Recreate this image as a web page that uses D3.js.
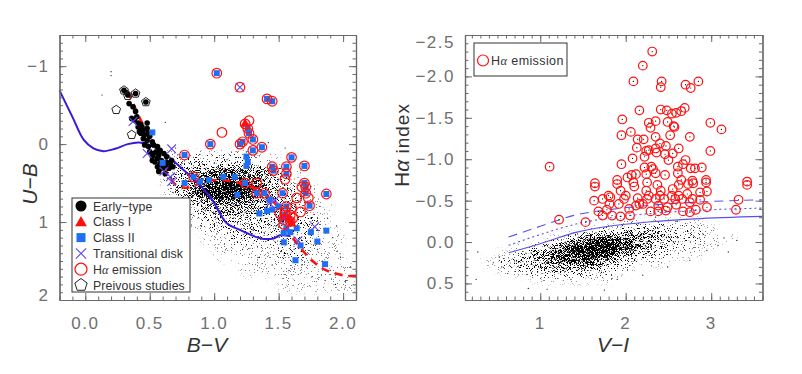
<!DOCTYPE html>
<html>
<head>
<meta charset="utf-8">
<script src="https://cdn.jsdelivr.net/npm/d3@7"></script>
<style>
  body { margin: 0; background: #fff; }
  text { font-family: "Liberation Sans", "DejaVu Sans", sans-serif; }
</style>
</head>
<body>
<div id="chart"></div>
<script>
// ---------- left panel: U-B vs B-V ----------
const earlyType = [[0.30,-0.69],[0.32,-0.66],[0.33,-0.63],[0.39,-0.65],[0.47,-0.54],[0.34,-0.52],[0.37,-0.48],
  [0.39,-0.42],[0.36,-0.33],[0.40,-0.35],[0.38,-0.31],[0.41,-0.27],[0.43,-0.25],[0.44,-0.22],[0.45,-0.18],
  [0.48,-0.27],[0.42,-0.16],[0.43,-0.14],[0.46,-0.12],[0.49,-0.14],[0.45,-0.07],[0.48,-0.05],[0.50,-0.10],
  [0.52,-0.03],[0.46,0.01],[0.49,0.03],[0.53,0.01],[0.56,0.03],[0.58,0.08],[0.50,0.10],[0.53,0.12],[0.57,0.14],
  [0.61,0.12],[0.52,0.16],[0.56,0.18],[0.59,0.21],[0.63,0.16],[0.54,0.23],[0.58,0.25],[0.62,0.27],[0.66,0.25],
  [0.56,0.29],[0.60,0.31],[0.65,0.31],[0.68,0.29],[0.57,0.35],[0.62,0.38],[0.48,-0.20],[0.41,-0.22],[0.52,0.21],
  [0.63,0.23],[0.67,0.21],[0.55,0.10]];
const classOne = [[1.24,-0.26],[1.55,0.93],[1.59,0.97],[1.60,1.02]];
const classTwo = [[1.02,-0.91],[1.41,-0.58],[1.45,-0.55],[1.26,-0.20],[1.27,-0.14],[1.30,-0.06],[1.20,0.00],
  [1.22,-0.03],[0.97,0.00],[1.30,0.08],[1.37,0.04],[1.25,0.16],[1.26,0.23],[1.25,0.28],[1.45,0.29],[1.46,0.34],
  [1.56,0.29],[1.56,0.38],[1.60,0.17],[1.70,0.28],[0.77,0.14],[0.84,0.42],[0.77,0.50],[0.89,0.48],[0.96,0.46],
  [1.07,0.42],[1.16,0.42],[1.24,0.50],[1.70,0.50],[0.52,-0.15],[0.60,0.24],[1.71,0.55],[1.87,0.64],[1.53,0.63],
  [1.33,0.63],[1.39,0.63],[1.18,0.65],[1.43,0.71],[1.71,0.63],[1.74,0.79],[1.56,0.80],[1.55,0.91],[1.50,0.80],
  [1.45,0.84],[1.41,0.86],[1.35,0.89],[1.56,1.08],[1.64,1.08],[1.54,1.14],[1.59,1.13],[1.75,1.13],[1.87,1.11],
  [1.54,1.26],[1.67,1.30],[1.80,1.25],[1.63,1.49],[1.86,1.54]];
const transDisk = [[1.20,-0.73],[0.37,-0.29],[0.67,0.06],[0.48,0.12],[0.66,0.42],[0.61,0.35],[0.67,0.48],
  [1.52,0.99],[1.54,0.93],[1.78,1.06],[1.65,1.24],[1.43,0.76],[1.47,0.72]];
const haLeft = [[1.02,-0.91],[1.20,-0.73],[1.41,-0.58],[1.45,-0.55],[1.24,-0.26],[1.27,-0.30],[1.26,-0.20],
  [1.27,-0.14],[1.30,-0.06],[1.20,0.00],[1.22,-0.03],[1.06,-0.15],[0.97,0.00],[1.30,0.08],[1.37,0.04],[1.45,0.29],
  [1.46,0.34],[1.56,0.29],[1.56,0.38],[1.60,0.17],[1.70,0.28],[0.77,0.14],[0.84,0.42],[1.24,0.50],[1.33,0.50],
  [1.55,0.45],[1.70,0.50],[1.71,0.55],[1.68,0.55],[1.87,0.64],[1.64,0.69],[1.53,0.63],[1.33,0.63],[1.39,0.63],
  [1.71,0.63],[1.73,0.69],[1.74,0.79],[1.67,0.87],[1.56,0.80],[1.60,0.82],[1.55,0.86],[1.51,0.89],[1.55,0.91],
  [1.59,0.91],[1.61,0.95],[1.54,0.97],[1.59,0.99],[1.54,1.03]];
const previous = [[0.30,-0.69],[0.33,-0.62],[0.39,-0.65],[0.47,-0.54],[0.24,-0.44],[0.36,-0.12]];
const zamsLine = [[-0.2,-0.69],[-0.1,-0.35],[-0.01,-0.05],[0.06,0.05],[0.14,0.09],[0.23,0.06],[0.33,0.0],
  [0.42,-0.02],[0.53,0.03],[0.63,0.14],[0.76,0.33],[0.85,0.46],[0.97,0.68],[1.10,1.02],[1.20,1.10],[1.36,1.21],
  [1.46,1.21],[1.51,1.17],[1.59,1.18]];
const reddenedLine = [[0.33,-0.68],[0.43,-0.31],[0.53,-0.01],[0.62,0.33],[0.70,0.52],[0.78,0.56],[0.90,0.50],
  [1.02,0.46],[1.20,0.50],[1.36,0.61],[1.49,0.80],[1.54,1.02],[1.64,1.27],[1.77,1.51],[1.87,1.62],[2.03,1.69],[2.10,1.69]];
// field stars: density (B-V columns x U-B rows, 0-9)
const fieldBV = [0.65,0.75,0.85,0.95,1.05,1.15,1.25,1.35,1.45,1.55,1.65,1.75,1.85,1.95,2.05];
const fieldUB = [0.2,0.4,0.6,0.8,1.0,1.2,1.4,1.6,1.8];
const fieldDensL = [
  [2,2,2,2,2,2,2,1,1,0,0,0,0,0,0],
  [2,3,5,6,7,7,6,5,3,2,1,0,0,0,0],
  [1,3,6,8,9,9,8,6,4,3,2,1,0,0,0],
  [0,1,3,4,5,5,5,4,4,3,2,1,1,0,0],
  [0,0,1,2,3,3,3,3,3,3,2,2,1,0,0],
  [0,0,0,1,1,2,2,2,2,2,2,2,1,1,0],
  [0,0,0,0,1,1,1,1,1,2,2,1,1,1,0],
  [0,0,0,0,0,0,1,1,1,1,1,1,1,1,1],
  [0,0,0,0,0,0,0,0,0,1,1,1,1,1,1]];
const fieldDotsL = [[0.20,-0.93],[0.20,-0.88],[0.13,-0.63],[0.62,-0.28],[0.70,0.05],[0.75,0.25],[0.68,0.62],
  [0.72,0.80],[0.80,0.95],[0.90,1.05],[0.95,0.85],[1.02,1.15],[1.08,1.28],[1.15,0.95],[1.22,1.35],[1.30,1.10],
  [1.35,1.45],[1.40,1.25],[1.45,1.55],[1.48,1.05],[1.52,1.38],[1.58,1.62],[1.62,1.35],[1.68,1.55],[1.72,1.42],
  [1.76,1.70],[1.80,1.35],[1.84,1.50],[1.90,1.62],[1.94,1.80],[1.98,1.45],[2.02,1.75],[2.06,1.58],[1.92,1.20],
  [1.88,0.95],[1.82,0.80],[1.95,1.05],[1.60,0.60],[1.50,0.45],[1.40,0.30],[1.35,0.15],[1.25,0.10],[1.10,0.20],
  [1.00,0.25],[0.85,0.30],[1.65,0.72],[1.75,0.95],[1.42,-0.02],[1.55,0.05]];

// ---------- right panel: H-alpha index vs V-I ----------
const haRight = [[1.11,-0.91],[2.31,-2.30],[2.20,-2.13],[2.09,-1.94],[2.42,-1.94],[2.41,-1.87],[2.70,-1.90],
  [2.76,-1.86],[2.85,-1.94],[2.16,-1.59],[2.41,-1.60],[2.48,-1.59],[2.54,-1.55],[2.59,-1.56],[2.69,-1.62],
  [2.65,-1.58],[1.96,-1.48],[2.29,-1.38],[2.27,-1.44],[2.35,-1.46],[2.49,-1.45],[2.56,-1.40],[2.57,-1.39],
  [2.99,-1.44],[3.12,-1.36],[1.95,-1.29],[2.06,-1.33],[2.14,-1.24],[2.21,-1.24],[2.35,-1.27],[2.52,-1.29],
  [2.75,-1.27],[2.13,-1.14],[2.24,-1.10],[2.27,-1.11],[2.35,-1.13],[2.40,-1.19],[2.47,-1.16],[2.62,-1.13],
  [2.99,-1.10],[2.08,-1.01],[2.22,-1.03],[2.36,-1.08],[2.46,-1.06],[2.55,-1.07],[1.95,-0.94],[2.22,-0.90],
  [2.30,-0.91],[2.32,-0.88],[2.50,-0.99],[2.61,-0.91],[2.70,-0.99],[2.67,-0.94],[2.76,-0.89],[2.81,-0.89],
  [2.89,-0.90],[2.02,-0.78],[2.07,-0.81],[2.12,-0.82],[2.24,-0.82],[2.35,-0.83],[2.46,-0.81],[2.61,-0.83],
  [1.90,-0.75],[1.64,-0.71],[2.09,-0.72],[2.65,-0.75],[2.78,-0.74],[2.94,-0.75],[3.42,-0.73],[1.64,-0.67],
  [1.90,-0.70],[2.10,-0.67],[2.25,-0.72],[2.37,-0.69],[2.62,-0.69],[2.73,-0.70],[2.79,-0.71],[2.94,-0.72],
  [3.42,-0.69],[1.63,-0.50],[1.80,-0.56],[1.82,-0.54],[1.81,-0.46],[1.92,-0.46],[1.98,-0.52],[2.00,-0.56],
  [2.14,-0.53],[2.16,-0.46],[2.25,-0.52],[2.27,-0.56],[2.35,-0.52],[2.40,-0.56],[2.41,-0.62],[2.45,-0.52],
  [2.54,-0.56],[2.58,-0.52],[2.62,-0.56],[2.66,-0.52],[2.72,-0.58],[2.78,-0.52],[2.87,-0.60],[2.95,-0.61],
  [2.87,-0.51],[3.32,-0.51],[1.68,-0.37],[1.78,-0.39],[1.73,-0.32],[1.84,-0.32],[1.94,-0.31],[2.05,-0.32],
  [2.04,-0.40],[2.20,-0.46],[2.29,-0.37],[2.38,-0.37],[2.38,-0.44],[2.47,-0.38],[2.49,-0.42],[2.67,-0.37],
  [2.75,-0.36],[2.82,-0.39],[2.95,-0.42],[3.29,-0.39],[1.22,-0.27],[1.53,-0.24],[2.12,-0.44],[2.59,-0.45],
  [2.75,-0.48],[1.73,-0.52],[1.94,-0.62],[2.55,-0.64],[2.24,-0.62]];
const threshSolid = [[0.63,0.13],[1.0,0.02],[1.43,-0.12],[1.8,-0.19],[2.3,-0.245],[2.8,-0.28],[3.6,-0.31]];
const threshDotted = [[0.63,0.04],[1.0,-0.09],[1.43,-0.22],[1.8,-0.29],[2.3,-0.345],[2.8,-0.38],[3.6,-0.41]];
const threshDashed = [[0.63,-0.06],[1.0,-0.19],[1.43,-0.33],[1.8,-0.39],[2.3,-0.445],[2.8,-0.48],[3.6,-0.51]];
// field stars: density (V-I columns x H-alpha rows, 0-9)
const fieldVI = [0.4,0.6,0.8,1.0,1.2,1.4,1.6,1.8,2.0,2.2,2.4,2.6,2.8,3.0,3.2,3.4];
const fieldHa = [-0.35,-0.25,-0.15,-0.05,0.05,0.15,0.25,0.35,0.45,0.55];
const fieldDensR = [
  [0,0,0,0,0,0,0,0,0,0,0,0,0,0,0,0],
  [0,0,0,0,0,0,0,0,1,1,1,1,1,0,0,0],
  [0,0,0,0,0,0,1,2,3,3,3,2,2,1,0,0],
  [0,0,0,0,1,3,6,7,6,5,4,3,2,1,1,0],
  [0,0,1,2,5,8,9,9,7,5,3,2,1,1,0,0],
  [0,1,2,4,7,9,9,8,5,3,2,1,1,0,0,0],
  [1,2,4,5,6,6,6,4,2,1,1,0,0,0,0,0],
  [0,1,2,3,3,3,3,2,1,0,0,0,0,0,0,0],
  [0,0,0,1,1,1,1,1,0,0,0,0,0,0,0,0],
  [0,0,0,0,0,0,0,0,0,0,0,0,0,0,0,0]];
const fieldDotsR = [[0.27,0.12],[0.25,0.45],[0.86,0.56],[1.08,0.57],[1.36,0.45],[1.75,0.58],[2.49,0.30],
  [2.75,0.22],[3.08,0.04],[3.15,-0.05],[2.95,0.10],[0.45,0.25],[0.52,0.18],[0.55,0.30],[0.62,0.38],[0.70,0.22],
  [2.2,0.40],[2.9,-0.1],[3.2,0.12],[1.9,0.45],[2.35,-0.3],[2.6,-0.25],[3.3,-0.02]];

// tick labels
const lxTicks = [0, 0.5, 1, 1.5, 2];
const lyTicks = [-1, 0, 1, 2];
const rxTicks = [1, 2, 3];
const ryTicks = [-2.5, -2, -1.5, -1, -0.5, 0, 0.5];

const W = 802, H = 374;
const axisCol = "#6a6a6a", labelCol = "#707070";
const red = "#ff1010", blue = "#1f6ff2", purple = "#6048f0";

const svg = d3.select("#chart").append("svg").attr("width", W).attr("height", H);
const defs = svg.append("defs");

const xL = d3.scaleLinear().domain([-0.2, 2.1]).range([59.5, 356]);
const yL = d3.scaleLinear().domain([-1.4, 2.0]).range([35, 300]);
const xR = d3.scaleLinear().domain([0.12, 3.6]).range([465, 762.5]);
const yR = d3.scaleLinear().domain([-2.5, 0.7]).range([35, 300]);

// grain filter turns a smooth density into speckled dots
function grainFilter(id, x, y) {
  const [x0, x1] = x.range(), [y0, y1] = y.range();
  const f = defs.append("filter").attr("id", id).attr("filterUnits", "userSpaceOnUse")
    .attr("x", x0).attr("y", y0).attr("width", x1 - x0).attr("height", y1 - y0)
    .attr("color-interpolation-filters", "sRGB");
  f.append("feGaussianBlur").attr("in", "SourceGraphic").attr("stdDeviation", 3).attr("result", "dens");
  f.append("feTurbulence").attr("type", "fractalNoise").attr("baseFrequency", 1.3)
    .attr("numOctaves", 2).attr("seed", 7).attr("result", "noise");
  f.append("feColorMatrix").attr("in", "noise").attr("type", "matrix")
    .attr("values", "0 0 0 0 0  0 0 0 0 0  0 0 0 0 0  2.5 0 0 0 -0.75").attr("result", "nz");
  f.append("feComposite").attr("in", "dens").attr("in2", "nz").attr("operator", "arithmetic")
    .attr("k1", 0).attr("k2", 5).attr("k3", -5).attr("k4", 0);
  const c = defs.append("clipPath").attr("id", id + "clip");
  c.append("rect").attr("x", x0).attr("y", y0).attr("width", x1 - x0).attr("height", y1 - y0);
}
grainFilter("grainL", xL, yL);
grainFilter("grainR", xR, yR);

function densityCells(g, cols, rows, dens, x, y, dx, dy, id) {
  const cells = [];
  rows.forEach((r, i) => cols.forEach((c, j) => { if (dens[i][j] > 0) cells.push({c, r, v: dens[i][j]}); }));
  g.append("g").attr("clip-path", `url(#${id}clip)`)
    .append("g").attr("filter", `url(#${id})`)
    .selectAll("rect").data(cells).join("rect")
    .attr("x", d => x(d.c - dx / 2))
    .attr("y", d => y(d.r - dy / 2))
    .attr("width", d => x(d.c + dx / 2) - x(d.c - dx / 2))
    .attr("height", d => y(d.r + dy / 2) - y(d.r - dy / 2))
    .attr("fill", "#000")
    .attr("fill-opacity", d => d.v / 9 * 0.95);
}

function frame(x, y, xMaj, xMin, yMaj, yMin) {
  const [x0, x1] = x.range(), [y0, y1] = y.range();
  const g = svg.append("g").attr("class", "frame");
  const mk = (axis, tr) => g.append("g").attr("transform", tr).call(axis);
  mk(d3.axisBottom(x).tickValues(xMin).tickSize(-3.5).tickFormat("").tickSizeOuter(0), `translate(0,${y1})`);
  mk(d3.axisBottom(x).tickValues(xMaj).tickSize(-7).tickFormat("").tickSizeOuter(0), `translate(0,${y1})`);
  mk(d3.axisTop(x).tickValues(xMin).tickSize(-3.5).tickFormat("").tickSizeOuter(0), `translate(0,${y0})`);
  mk(d3.axisTop(x).tickValues(xMaj).tickSize(-7).tickFormat("").tickSizeOuter(0), `translate(0,${y0})`);
  mk(d3.axisLeft(y).tickValues(yMin).tickSize(-3.5).tickFormat("").tickSizeOuter(0), `translate(${x0},0)`);
  mk(d3.axisLeft(y).tickValues(yMaj).tickSize(-7).tickFormat("").tickSizeOuter(0), `translate(${x0},0)`);
  mk(d3.axisRight(y).tickValues(yMin).tickSize(-3.5).tickFormat("").tickSizeOuter(0), `translate(${x1},0)`);
  mk(d3.axisRight(y).tickValues(yMaj).tickSize(-7).tickFormat("").tickSizeOuter(0), `translate(${x1},0)`);
  g.selectAll(".domain").attr("stroke", axisCol).attr("stroke-width", 1.2);
  g.selectAll(".tick line").attr("stroke", axisCol).attr("stroke-width", 1);
}

function tickLabels(x, y, xt, yt, fx, fy) {
  const [y0, y1] = y.range();
  svg.append("g").selectAll("text").data(xt).join("text")
    .attr("x", d => x(d)).attr("y", y1 + 29)
    .attr("text-anchor", "middle").attr("font-size", 17).attr("fill", labelCol)
    .attr("letter-spacing", 1.5).text(fx);
  svg.append("g").selectAll("text").data(yt).join("text")
    .attr("x", x.range()[0] - 10)
    .attr("y", d => Math.min(Math.max(y(d), y0 + 7), y1 - 5) + 6)
    .attr("text-anchor", "end").attr("font-size", 17).attr("fill", labelCol)
    .attr("letter-spacing", 1.5).text(fy);
}
const minus = s => s.replace("-", "\u2212");
const rangeStep = (a, b, s) => d3.range(Math.round(a / s), Math.round(b / s) + 1).map(k => +(k * s).toFixed(2));

// ---------------- left panel ----------------
const gL = svg.append("g");
densityCells(gL, fieldBV, fieldUB, fieldDensL, xL, yL, 0.1, 0.2, "grainL");
gL.append("g").selectAll("circle").data(fieldDotsL).join("circle")
  .attr("cx", d => xL(d[0])).attr("cy", d => yL(d[1])).attr("r", 0.6).attr("fill", "#000");

const lineL = d3.line().x(d => xL(d[0])).y(d => yL(d[1])).curve(d3.curveCatmullRom);
gL.append("path").datum(reddenedLine).attr("d", lineL).attr("fill", "none")
  .attr("stroke", red).attr("stroke-width", 2.6).attr("stroke-dasharray", "8,6");
gL.append("path").datum(zamsLine).attr("d", lineL).attr("fill", "none")
  .attr("stroke", "#3a18dc").attr("stroke-width", 2);

gL.append("g").selectAll("circle").data(earlyType).join("circle")
  .attr("cx", d => xL(d[0])).attr("cy", d => yL(d[1])).attr("r", 2.8).attr("fill", "#000");
gL.append("g").selectAll("rect").data(classTwo).join("rect")
  .attr("x", d => xL(d[0]) - 3).attr("y", d => yL(d[1]) - 3).attr("width", 6).attr("height", 6).attr("fill", blue);
const triPath = d3.symbol(d3.symbolTriangle, 40)();
gL.append("g").selectAll("path").data(classOne).join("path")
  .attr("transform", d => `translate(${xL(d[0])},${yL(d[1])})`).attr("d", triPath).attr("fill", red);
const xPath = d3.symbol(d3.symbolX, 50)();
gL.append("g").selectAll("path").data(transDisk).join("path")
  .attr("transform", d => `translate(${xL(d[0])},${yL(d[1])})`).attr("d", xPath)
  .attr("fill", "none").attr("stroke", purple).attr("stroke-width", 1.1);
gL.append("g").selectAll("circle").data(haLeft).join("circle")
  .attr("cx", d => xL(d[0])).attr("cy", d => yL(d[1])).attr("r", 4.8)
  .attr("fill", "none").attr("stroke", red).attr("stroke-width", 1.2);
const pent = r => d3.line()(d3.range(6).map(k => {
  const a = -Math.PI / 2 + k * 2 * Math.PI / 5;
  return [r * Math.cos(a), r * Math.sin(a)];
})) + "Z";
gL.append("g").selectAll("path").data(previous).join("path")
  .attr("transform", d => `translate(${xL(d[0])},${yL(d[1])})`).attr("d", pent(4.6))
  .attr("fill", "none").attr("stroke", "#222").attr("stroke-width", 1);

frame(xL, yL, lxTicks, rangeStep(-0.2, 2.1, 0.1), lyTicks, rangeStep(-1.4, 2.0, 0.1));
tickLabels(xL, yL, lxTicks, lyTicks, d => d.toFixed(1), d => minus(String(d)));

// legend (left)
const legL = svg.append("g");
legL.append("rect").attr("x", 72).attr("y", 198).attr("width", 118).attr("height", 94)
  .attr("fill", "#fff").attr("stroke", "#333").attr("stroke-width", 1);
const legItems = ["Early\u2212type", "Class I", "Class II", "Transitional disk", "H\u03b1 emission", "Preivous studies"];
legItems.forEach((t, i) => {
  const cy = 206 + i * 15.8, cx = 81;
  if (i === 0) legL.append("circle").attr("cx", cx).attr("cy", cy).attr("r", 5.5).attr("fill", "#000");
  if (i === 1) legL.append("path").attr("transform", `translate(${cx},${cy + 1})`).attr("d", d3.symbol(d3.symbolTriangle, 60)()).attr("fill", red);
  if (i === 2) legL.append("rect").attr("x", cx - 4.5).attr("y", cy - 4.5).attr("width", 9).attr("height", 9).attr("fill", blue);
  if (i === 3) legL.append("path").attr("transform", `translate(${cx},${cy})`).attr("d", d3.symbol(d3.symbolX, 70)())
    .attr("fill", "none").attr("stroke", purple).attr("stroke-width", 1.1);
  if (i === 4) legL.append("circle").attr("cx", cx).attr("cy", cy).attr("r", 6).attr("fill", "none").attr("stroke", red).attr("stroke-width", 1.2);
  if (i === 5) legL.append("path").attr("transform", `translate(${cx},${cy})`).attr("d", pent(6.5))
    .attr("fill", "none").attr("stroke", "#222").attr("stroke-width", 1);
  const tx = legL.append("text").attr("x", 93).attr("y", cy + 4.5).attr("font-size", 12.3)
    .attr("fill", "#333").attr("letter-spacing", 0.1);
  if (i === 4) { tx.append("tspan").text("H"); tx.append("tspan").attr("font-family", "Liberation Serif").attr("font-style", "italic").text("\u03b1"); tx.append("tspan").text(" emission"); }
  else tx.text(t);
});

// axis titles (left)
svg.append("text").attr("x", 207).attr("y", 352).attr("text-anchor", "middle")
  .attr("font-family", "Liberation Serif").attr("font-style", "italic").attr("font-size", 21).attr("fill", "#333")
  .text("B\u2212V");
svg.append("text").attr("transform", "translate(37,184) rotate(-90)").attr("text-anchor", "middle")
  .attr("font-family", "Liberation Serif").attr("font-style", "italic").attr("font-size", 21).attr("fill", "#333")
  .text("U\u2212B");

// ---------------- right panel ----------------
const gR = svg.append("g");
densityCells(gR, fieldVI, fieldHa, fieldDensR, xR, yR, 0.2, 0.1, "grainR");
gR.append("g").selectAll("circle").data(fieldDotsR).join("circle")
  .attr("cx", d => xR(d[0])).attr("cy", d => yR(d[1])).attr("r", 0.6).attr("fill", "#000");

const lineR = d3.line().x(d => xR(d[0])).y(d => yR(d[1])).curve(d3.curveMonotoneX);
gR.append("path").datum(threshSolid).attr("d", lineR).attr("fill", "none")
  .attr("stroke", "#5a50f0").attr("stroke-width", 1.1);
gR.append("path").datum(threshDotted).attr("d", lineR).attr("fill", "none")
  .attr("stroke", "#5a50f0").attr("stroke-width", 1.1).attr("stroke-dasharray", "2,3");
gR.append("path").datum(threshDashed).attr("d", lineR).attr("fill", "none")
  .attr("stroke", "#5a50f0").attr("stroke-width", 1.1).attr("stroke-dasharray", "9,6");

gR.append("g").selectAll("circle").data(haRight).join("circle")
  .attr("cx", d => xR(d[0])).attr("cy", d => yR(d[1])).attr("r", 0.6).attr("fill", "#000");
gR.append("g").selectAll("circle").data(haRight).join("circle")
  .attr("cx", d => xR(d[0])).attr("cy", d => yR(d[1])).attr("r", 4.3)
  .attr("fill", "none").attr("stroke", red).attr("stroke-width", 1.2);

frame(xR, yR, rxTicks, rangeStep(0.2, 3.6, 0.1), ryTicks, rangeStep(-2.5, 0.7, 0.1));
tickLabels(xR, yR, rxTicks, ryTicks, d => String(d), d => minus(d.toFixed(1)));

// legend (right)
const legR = svg.append("g");
legR.append("rect").attr("x", 474).attr("y", 43).attr("width", 93).attr("height", 33)
  .attr("fill", "#fff").attr("stroke", "#333").attr("stroke-width", 1);
legR.append("circle").attr("cx", 483).attr("cy", 60.5).attr("r", 5.5)
  .attr("fill", "none").attr("stroke", red).attr("stroke-width", 1.2);
const lt = legR.append("text").attr("x", 491).attr("y", 65).attr("font-size", 12.5).attr("fill", "#333").attr("letter-spacing", 0.4);
lt.append("tspan").text("H");
lt.append("tspan").attr("font-family", "Liberation Serif").attr("font-style", "italic").text("\u03b1");
lt.append("tspan").text(" emission");

// axis titles (right)
svg.append("text").attr("x", 613).attr("y", 352).attr("text-anchor", "middle")
  .attr("font-family", "Liberation Serif").attr("font-style", "italic").attr("font-size", 21).attr("fill", "#333")
  .text("V\u2212I");
const ht = svg.append("text").attr("transform", "translate(409,145) rotate(-90)").attr("text-anchor", "middle")
  .attr("font-family", "Liberation Serif").attr("font-size", 21).attr("fill", "#333");
ht.append("tspan").text("H");
ht.append("tspan").attr("font-style", "italic").text("\u03b1");
ht.append("tspan").attr("font-family", "Liberation Sans").attr("font-size", 19).attr("letter-spacing", 1).text(" index");
</script>
</body>
</html>
